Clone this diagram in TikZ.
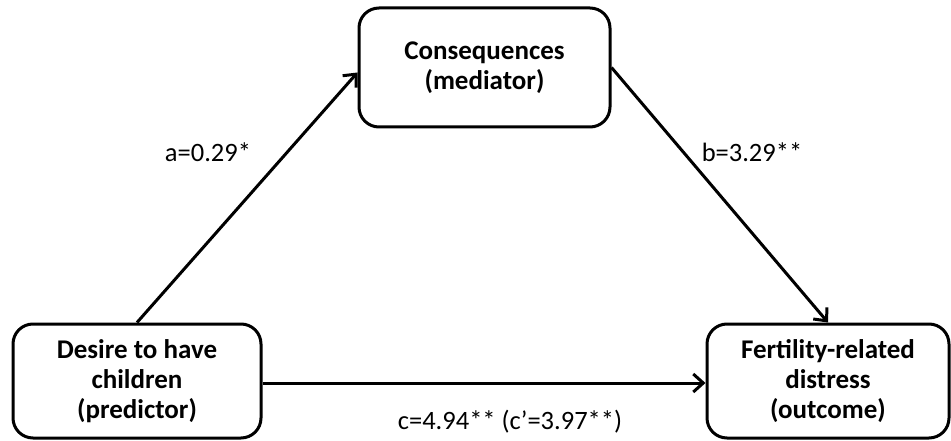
\documentclass[tikz,border=0pt]{standalone}
\usepackage{fontspec}
\setmainfont{Carlito}
\usetikzlibrary{arrows.meta}
\begin{document}
\begin{tikzpicture}[x=1pt,y=-1pt,
  varbox/.style={draw, line width=3pt, rounded corners=20pt, fill=white,
    align=center, font=\fontsize{27}{30}\selectfont\bfseries, inner sep=0pt},
  path/.style={line width=3pt, -{Straight Barb[length=10pt,width=18pt,line width=3pt]}},
  coef/.style={font=\fontsize{26.5}{30}\selectfont}]
  \useasboundingbox (0,0) rectangle (951,441);
  % variables
  \node[varbox, minimum width=251pt, minimum height=119pt] (T) at (484.5,67.5)
    {Consequences\\(mediator)};
  \node[varbox, minimum width=248pt, minimum height=114pt] (L) at (137,381)
    {Desire to have\\children\\(predictor)};
  \node[varbox, minimum width=242pt, minimum height=114pt] (R) at (828,381)
    {Fertility-related\\distress\\(outcome)};
  % paths
  \draw[path] (L.north) -- ([yshift=-5pt]T.west);
  \draw[path] (T.east) -- (R.north);
  \draw[path] ([yshift=-2pt]L.east) -- ([yshift=-2pt]R.west);
  % coefficients
  \node[coef] (la) at (208,152) {a=0.29*};
  \node[coef] (lb) at (752,152) {b=3.29**};
  \node[coef] (lc) at (510,422) {c=4.94** (c’=3.97**)};
\end{tikzpicture}
\end{document}
